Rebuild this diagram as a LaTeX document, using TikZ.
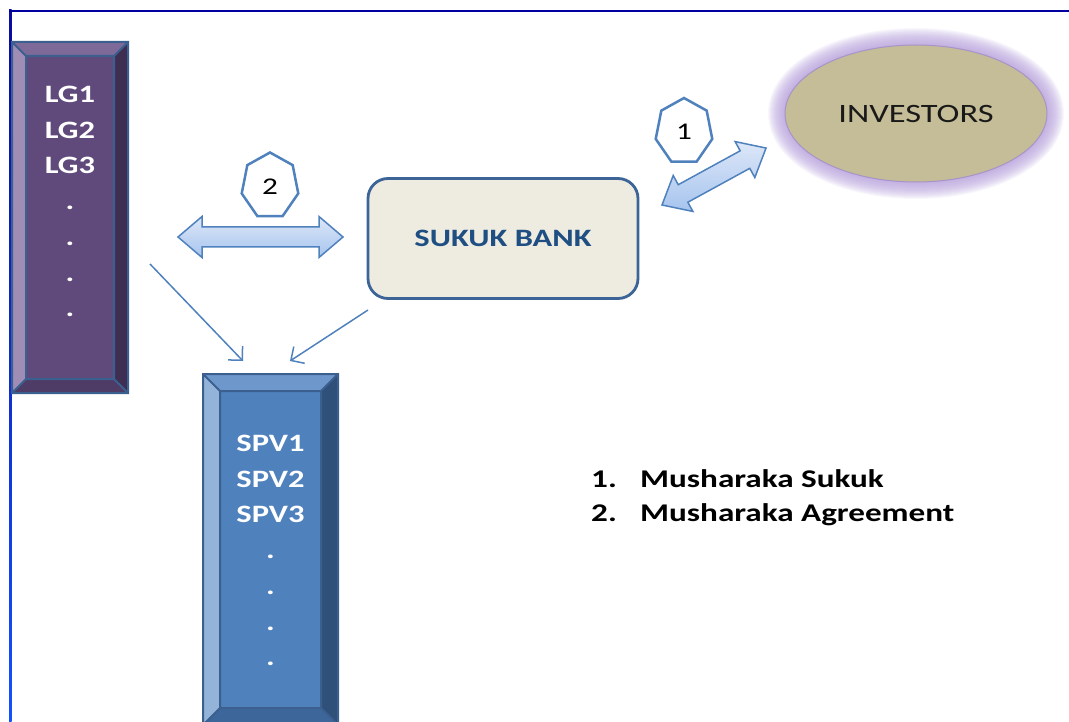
\documentclass[tikz,border=0pt]{standalone}
\usepackage{fontspec}
\setmainfont{Carlito}[FakeStretch=1.3]
\usetikzlibrary{shapes.geometric,calc,arrows.meta}
\definecolor{frametop}{HTML}{0000A0}
\definecolor{frameleftA}{HTML}{0A0A9E}
\definecolor{frameleftB}{HTML}{1450FF}
\definecolor{lgface}{HTML}{604A7B}
\definecolor{lgtop}{HTML}{7D6A98}
\definecolor{lgleft}{HTML}{A08DB5}
\definecolor{lgright}{HTML}{3E2E52}
\definecolor{lgbottom}{HTML}{4E3C66}
\definecolor{spvface}{HTML}{4F81BD}
\definecolor{spvtop}{HTML}{6E98CC}
\definecolor{spvleft}{HTML}{94B3D9}
\definecolor{spvright}{HTML}{2F5079}
\definecolor{spvbottom}{HTML}{3D679A}
\definecolor{bevelline}{HTML}{3B6090}
\definecolor{bankfill}{HTML}{EEECE1}
\definecolor{bankline}{HTML}{3C6496}
\definecolor{banktext}{HTML}{1F4E82}
\definecolor{invfill}{HTML}{C4BD97}
\definecolor{invline}{HTML}{A894C8}
\definecolor{glowc}{HTML}{B49EDA}
\definecolor{accent}{HTML}{4F81BD}
\definecolor{arrowtop}{HTML}{DDE7F8}
\definecolor{arrowbot}{HTML}{A6C4EE}
\newcommand\mybevel[7]{%
  \coordinate (#1-o1) at (#1.north west);
  \coordinate (#1-o2) at (#1.north east);
  \coordinate (#1-o3) at (#1.south east);
  \coordinate (#1-o4) at (#1.south west);
  \coordinate (#1-i1) at ($(#1-o1)+(#2,#2)$);
  \coordinate (#1-i2) at ($(#1-o2)+(-#2,#2)$);
  \coordinate (#1-i3) at ($(#1-o3)+(-#2,-#2)$);
  \coordinate (#1-i4) at ($(#1-o4)+(#2,-#2)$);
  \fill[#3] (#1-o1)--(#1-o2)--(#1-i2)--(#1-i1)--cycle;
  \fill[#4] (#1-o1)--(#1-i1)--(#1-i4)--(#1-o4)--cycle;
  \fill[#5] (#1-o2)--(#1-o3)--(#1-i3)--(#1-i2)--cycle;
  \fill[#6] (#1-o4)--(#1-i4)--(#1-i3)--(#1-o3)--cycle;
  \draw[#7, line width=2pt, line join=miter] (#1-o1) rectangle (#1-o3) (#1-i1) rectangle (#1-i3)
     (#1-o1)--(#1-i1) (#1-o2)--(#1-i2) (#1-o3)--(#1-i3) (#1-o4)--(#1-i4);
}
\tikzset{
  x=1pt, y=-1pt,
  bevelbox/.style={rectangle, inner sep=0pt, outer sep=0pt},
  boxtext/.style={anchor=north, inner sep=0pt, align=center, text=white,
     font=\fontsize{25}{35.7}\selectfont\bfseries},
  bank/.style={rectangle, rounded corners=20pt, draw=bankline, line width=2.8pt, fill=bankfill,
     minimum width=270pt, minimum height=120pt, text=banktext, font=\fontsize{25}{30}\selectfont\bfseries},
  investors/.style={ellipse, fill=invfill, draw=invline, line width=1pt, minimum width=262pt, minimum height=137pt,
     inner sep=0pt, text=black!90, font=\fontsize{26.5}{30}\selectfont},
  hept/.style={draw=accent, line width=2.5pt, fill=white, line join=miter},
  heptnum/.style={inner sep=0pt, font=\fontsize{24}{28}\selectfont},
  thin/.style={draw=accent, line width=1.5pt, -{Straight Barb[length=10pt, width=20pt, line width=1.5pt]}},
  legend/.style={anchor=north west, inner sep=0pt, align=left, font=\fontsize{25.5}{34.5}\selectfont\bfseries},
  pics/dblarrow/.style={code={
    \path[draw=accent, line width=1.5pt, top color=arrowtop, bottom color=arrowbot, line join=miter]
      (0,0) -- (24,-20.5) -- (24,-10) -- (#1-24,-10) -- (#1-24,-20.5) -- (#1,0)
      -- (#1-24,20.5) -- (#1-24,10) -- (24,10) -- (24,20.5) -- cycle;
  }}
}
\begin{document}
\begin{tikzpicture}
\useasboundingbox (0,0) rectangle (1069,722);
% frame
\shade[top color=frameleftA, bottom color=frameleftB] (9,10) rectangle (11.5,722);
\draw[frametop, line width=2.5pt] (9,11) -- (1069,11);

% LG box
\node[bevelbox, fill=lgface, minimum width=116pt, minimum height=351pt, anchor=north west] (lg) at (12,42) {};
\mybevel{lg}{14}{lgtop}{lgleft}{lgright}{lgbottom}{bevelline}
\node[boxtext] (lgt) at (70,86) {LG1\\LG2\\LG3\\.\\.\\.\\.};

% SPV box
\node[bevelbox, fill=spvface, minimum width=135pt, minimum height=351pt, anchor=north west] (spv) at (203,374) {};
\mybevel{spv}{17}{spvtop}{spvleft}{spvright}{spvbottom}{bevelline}
\node[boxtext] (spvt) at (270.5,435) {SPV1\\SPV2\\SPV3\\.\\.\\.\\.};

% Sukuk bank
\node[bank] (bank) at (503,238.5) {SUKUK BANK};

% Investors with glow
\foreach \i in {1,...,17}{
  \draw[glowc, opacity=0.085, line width=\i*2pt] (916,113.5) ellipse [x radius=131, y radius=68.5];
}
\node[investors] (inv) at (916,113.5) {INVESTORS};

% heptagons
\draw[hept] plot[samples at={0,1,...,6}, variable=\k] ({684+29*cos(90+\k*360/7)},{131.5-33.5*sin(90+\k*360/7)}) -- cycle;
\node[heptnum] (h1) at (684,132) {1};
\draw[hept] plot[samples at={0,1,...,6}, variable=\k] ({270+29*cos(90+\k*360/7)},{186-33.5*sin(90+\k*360/7)}) -- cycle;
\node[heptnum] (h2) at (270,187) {2};

% double arrows
\coordinate (a2s) at (178,237);
\coordinate (a2e) at (343,237);
\pic[shift={(a2s)}] {dblarrow=165};
\coordinate (a1s) at (662,205);
\coordinate (a1e) at (766,148);
\pic[shift={(a1s)}, rotate=28.7] {dblarrow=118.6};

% thin arrows
\coordinate (t1s) at (150,264);
\coordinate (t1e) at (243,361);
\coordinate (t2s) at (368,310);
\coordinate (t2e) at (290,361);
\draw[thin] (t1s) -- (t1e);
\draw[thin] (t2s) -- (t2e);

% legend
\node[legend] (leg) at (591,469) {\makebox[49pt][l]{1.}Musharaka Sukuk\\\makebox[49pt][l]{2.}Musharaka Agreement};
\end{tikzpicture}
\end{document}
